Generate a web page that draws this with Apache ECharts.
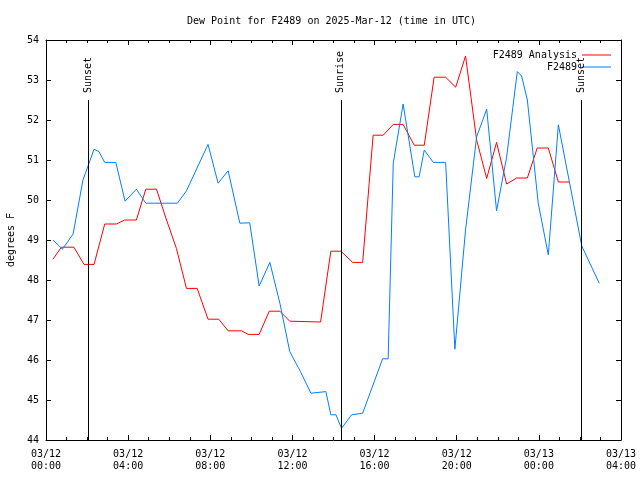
<!DOCTYPE html>
<html>
<head>
<meta charset="utf-8">
<script src="https://cdn.jsdelivr.net/npm/echarts@6/dist/echarts.min.js"></script>
<style>html,body{margin:0;padding:0;background:#fff;}#c{width:640px;height:480px;}</style>
</head>
<body>
<div id="c"></div>
<script>
// Hours since 03/12 00:00 UTC
var analysisHours = [0.34,0.75,1.36,1.85,2.34,2.86,3.43,3.83,4.40,4.86,5.38,5.87,6.35,6.84,7.36,7.89,8.41,8.87,9.52,9.84,10.38,10.87,11.39,11.87,13.37,13.87,14.36,14.93,15.42,15.93,16.42,16.91,17.39,17.93,18.42,18.90,19.46,19.95,20.43,20.97,21.46,21.94,22.43,22.92,23.44,23.92,24.46,24.95,25.47];
var analysisValues = [48.52,48.82,48.82,48.39,48.39,49.40,49.40,49.50,49.50,50.27,50.27,49.50,48.79,47.79,47.79,47.02,47.02,46.73,46.73,46.64,46.64,47.22,47.22,46.97,46.95,48.72,48.72,48.44,48.44,51.62,51.62,51.89,51.89,51.37,51.37,53.07,53.07,52.82,53.60,51.50,50.54,51.44,50.40,50.55,50.55,51.30,51.30,50.45,50.45];
var obsHours = [0.34,0.80,1.32,1.80,2.34,2.58,2.86,3.40,3.85,4.40,4.86,6.40,6.84,7.89,8.38,8.87,9.44,9.92,10.38,10.90,11.39,11.87,12.39,12.90,13.63,13.87,14.12,14.39,14.88,15.42,16.39,16.66,16.91,17.39,17.96,18.17,18.42,18.86,19.46,19.91,20.43,20.97,21.46,21.94,22.43,22.95,23.16,23.44,23.97,24.46,24.95,26.09,26.94];
var obsValues = [49.00,48.77,49.15,50.50,51.27,51.21,50.94,50.94,49.97,50.27,49.92,49.92,50.23,51.39,50.42,50.73,49.42,49.43,47.85,48.44,47.42,46.21,45.71,45.17,45.21,44.63,44.63,44.29,44.63,44.67,46.03,46.03,50.92,52.40,50.58,50.58,51.25,50.94,50.94,46.27,49.25,51.58,52.27,49.73,51.07,53.21,53.10,52.50,49.92,48.63,51.88,48.85,47.92];
var sunNames = ['Sunset','Sunrise','Sunset'];
var sunHours = [2.05,14.36,26.07];
var sunLineTop = 52.5;
var xTickLabels = ['03/12\n00:00','03/12\n04:00','03/12\n08:00','03/12\n12:00','03/12\n16:00','03/12\n20:00','03/13\n00:00','03/13\n04:00'];
var seriesNames = ['F2489 Analysis','F2489'];

var FONT = 'DejaVu Sans Mono';
var LINE_ICON = 'path://M0,0 L29,0 L29,1 L0,1 Z';
function zip(a,b){return a.map(function(v,i){return [v,b[i]];});}
var chart = echarts.init(document.getElementById('c'), null, {renderer:'canvas'});

var xBase = {
  type:'value', min:0, max:28, interval:4,
  axisLine:{show:true, onZero:false, lineStyle:{color:'#000',width:1}},
  axisTick:{show:true, inside:true, length:5, lineStyle:{color:'#000'}},
  minorTick:{show:true, splitNumber:4, length:3, lineStyle:{color:'#000'}},
  splitLine:{show:false}
};
var yBase = {
  type:'value', min:44, max:54, interval:1,
  axisLine:{show:true, onZero:false, lineStyle:{color:'#000',width:1}},
  axisTick:{show:true, inside:true, length:5, lineStyle:{color:'#000'}},
  splitLine:{show:false}
};

var sunMarks = sunHours.map(function(h){ return [{coord:[h,44]},{coord:[h,sunLineTop]}]; });

chart.setOption({
  animation:false,
  backgroundColor:'#fff',
  title:{text:'Dew Point for F2489 on 2025-Mar-12 (time in UTC)', left:182, top:11,
    textStyle:{fontFamily:FONT, fontSize:10, fontWeight:'normal', color:'#000'}},
  legend:{data:seriesNames.map(function(n){return {name:n, icon:LINE_ICON};}),
    orient:'vertical', align:'right', right:24, top:45,
    itemWidth:29, itemHeight:10, itemGap:2,
    textStyle:{fontFamily:FONT, fontSize:10, color:'#000'}},
  grid:{left:46, right:19, top:40, bottom:40, containLabel:false, outerBoundsMode:'none'},
  xAxis:[
    Object.assign({}, xBase, {position:'bottom',
      axisLabel:{show:true, margin:8, fontFamily:FONT, fontSize:10, color:'#000', lineHeight:12,
        formatter:function(v){ return xTickLabels[Math.round(v/4)]; }}}),
    Object.assign({}, xBase, {position:'top', axisLabel:{show:false}})
  ],
  yAxis:[
    Object.assign({}, yBase, {position:'left', name:'degrees F', nameLocation:'middle', nameGap:30, nameRotate:90,
      nameTextStyle:{fontFamily:FONT, fontSize:10, color:'#000'},
      axisLabel:{show:true, margin:7, fontFamily:FONT, fontSize:10, color:'#000'}}),
    Object.assign({}, yBase, {position:'right', axisLabel:{show:false}})
  ],
  series:[
    {name:seriesNames[0], type:'line', data:zip(analysisHours, analysisValues), symbol:'none',
      lineStyle:{color:'#ff0000', width:1}, itemStyle:{color:'#ff0000'},
      markLine:{silent:true, symbol:'none', label:{show:false}, lineStyle:{color:'#000', width:1, type:'solid'}, data:sunMarks}},
    {name:seriesNames[1], type:'line', data:zip(obsHours, obsValues), symbol:'none',
      lineStyle:{color:'#0080ff', width:1}, itemStyle:{color:'#0080ff'}}
  ]
});

var texts = sunHours.map(function(h,i){
  var p = chart.convertToPixel({gridIndex:0}, [h, sunLineTop]);
  return {type:'text', x:p[0], y:p[1]-7, rotation:Math.PI/2, z:100,
    style:{text:sunNames[i], font:'10px "'+FONT+'"', fill:'#000', align:'left', verticalAlign:'middle'}};
});
chart.setOption({graphic:texts});
</script>
</body>
</html>
